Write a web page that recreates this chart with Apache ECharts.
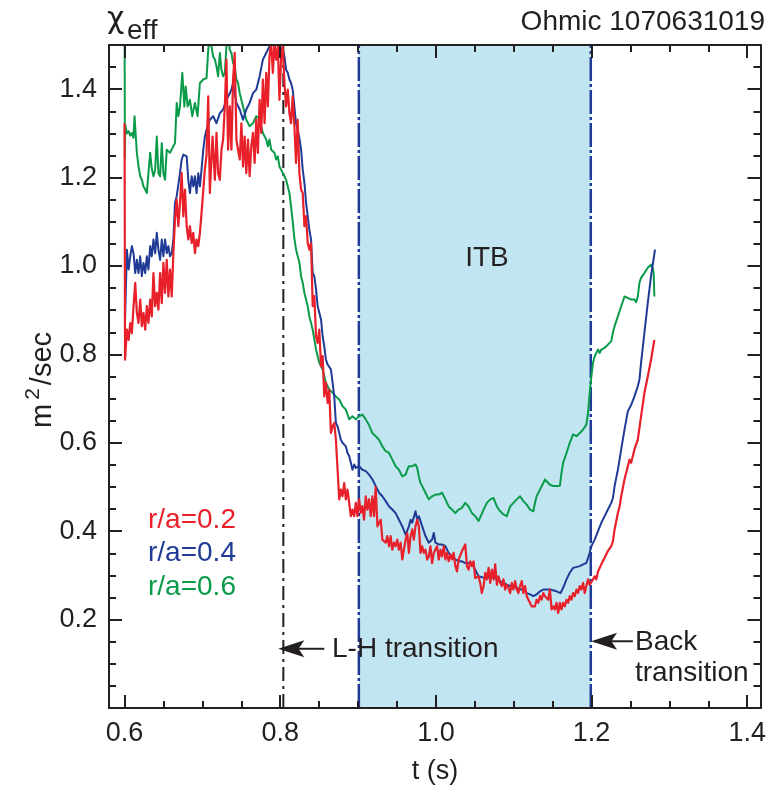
<!DOCTYPE html>
<html>
<head>
<meta charset="utf-8">
<script src="https://cdn.jsdelivr.net/npm/echarts@6/dist/echarts.min.js"></script>
<style>
  html, body { margin: 0; padding: 0; background: #ffffff; }
  #chart { width: 769px; height: 791px; }
</style>
</head>
<body>
<div id="chart"></div>
<script>
// Effective heat diffusivity chi_eff (m^2/s) versus time, three radii.

// r/a = 0.2
const redT = [
  0.6000, 0.6006, 0.6030, 0.6052, 0.6073, 0.6094, 0.6115, 0.6137, 0.6158, 0.6179,
  0.6201, 0.6222, 0.6243, 0.6265, 0.6286, 0.6307, 0.6329, 0.6350, 0.6371, 0.6393,
  0.6414, 0.6435, 0.6457, 0.6478, 0.6499, 0.6520, 0.6542, 0.6563, 0.6584, 0.6606,
  0.6627, 0.6648, 0.6670, 0.6691, 0.6712, 0.6734, 0.6755, 0.6776, 0.6798, 0.6819,
  0.6840, 0.6862, 0.6883, 0.6904, 0.6925, 0.6947, 0.6968, 0.6989, 0.7011, 0.7032,
  0.7053, 0.7075, 0.7096, 0.7130, 0.7160, 0.7181, 0.7202, 0.7224, 0.7245, 0.7266,
  0.7288, 0.7309, 0.7330, 0.7352, 0.7373, 0.7394, 0.7415, 0.7437, 0.7458, 0.7480,
  0.7501, 0.7522, 0.7543, 0.7564, 0.7586, 0.7607, 0.7628, 0.7650, 0.7671, 0.7692,
  0.7713, 0.7735, 0.7756, 0.7777, 0.7799, 0.7820, 0.7841, 0.7862, 0.7884, 0.7905,
  0.7926, 0.7948, 0.7969, 0.7990, 0.8012, 0.8033, 0.8054, 0.8075, 0.8097, 0.8118,
  0.8139, 0.8160, 0.8182, 0.8203, 0.8224, 0.8246, 0.8268, 0.8289, 0.8311, 0.8332,
  0.8353, 0.8374, 0.8396, 0.8417, 0.8438, 0.8460, 0.8481, 0.8502, 0.8524, 0.8545,
  0.8566, 0.8587, 0.8609, 0.8630, 0.8651, 0.8673, 0.8694, 0.8715, 0.8737, 0.8758,
  0.8779, 0.8800, 0.8822, 0.8843, 0.8864, 0.8886, 0.8907, 0.8928, 0.8950, 0.8971,
  0.8992, 0.9013, 0.9035, 0.9056, 0.9077, 0.9099, 0.9120, 0.9141, 0.9163, 0.9184,
  0.9205, 0.9226, 0.9249, 0.9270, 0.9291, 0.9312, 0.9334, 0.9355, 0.9376, 0.9398,
  0.9419, 0.9440, 0.9462, 0.9483, 0.9504, 0.9525, 0.9547, 0.9568, 0.9589, 0.9611,
  0.9632, 0.9653, 0.9675, 0.9696, 0.9717, 0.9738, 0.9760, 0.9781, 0.9802, 0.9824,
  0.9845, 0.9866, 0.9888, 0.9909, 0.9930, 0.9951, 0.9973, 0.9994, 1.0015, 1.0037,
  1.0058, 1.0079, 1.0101, 1.0122, 1.0143, 1.0164, 1.0186, 1.0207, 1.0228, 1.0250,
  1.0271, 1.0292, 1.0335, 1.0377, 1.0399, 1.0420, 1.0441, 1.0463, 1.0484, 1.0505,
  1.0527, 1.0548, 1.0569, 1.0590, 1.0613, 1.0634, 1.0655, 1.0677, 1.0698, 1.0719,
  1.0741, 1.0762, 1.0783, 1.0805, 1.0826, 1.0847, 1.0868, 1.0890, 1.0911, 1.0932,
  1.0954, 1.0975, 1.0996, 1.1018, 1.1039, 1.1060, 1.1081, 1.1103, 1.1124, 1.1145,
  1.1167, 1.1188, 1.1209, 1.1230, 1.1252, 1.1273, 1.1294, 1.1316, 1.1337, 1.1358,
  1.1380, 1.1401, 1.1422, 1.1443, 1.1465, 1.1486, 1.1507, 1.1529, 1.1550, 1.1571,
  1.1593, 1.1614, 1.1635, 1.1656, 1.1678, 1.1699, 1.1720, 1.1741, 1.1763, 1.1784,
  1.1806, 1.1827, 1.1848, 1.1869, 1.1891, 1.1912, 1.1933, 1.1955, 1.1976, 1.2019,
  1.2040, 1.2061, 1.2083, 1.2104, 1.2125, 1.2147, 1.2168, 1.2189, 1.2210, 1.2232,
  1.2253, 1.2274, 1.2296, 1.2338, 1.2360, 1.2381, 1.2423, 1.2466, 1.2487, 1.2509,
  1.2530, 1.2551, 1.2594, 1.2636, 1.2679, 1.2722, 1.2764, 1.2807
];
const redChi = [
  1.323, 0.788, 0.856, 0.833, 0.871, 0.848, 0.909, 0.962, 0.894, 0.871,
  0.924, 0.864, 0.894, 0.856, 0.909, 0.871, 0.924, 0.886, 0.984, 0.909,
  0.939, 0.901, 0.984, 0.916, 1.007, 0.939, 1.014, 0.931, 0.992, 0.931,
  1.029, 1.105, 1.150, 1.090, 1.143, 1.210, 1.112, 1.173, 1.090, 1.060,
  1.090, 1.052, 1.075, 1.029, 1.060, 1.045, 1.075, 1.120, 1.170, 1.220,
  1.250, 1.384, 1.165, 1.293, 1.195, 1.301, 1.210, 1.195, 1.263, 1.286,
  1.361, 1.467, 1.263, 1.361, 1.263, 1.422, 1.482, 1.286, 1.263, 1.241,
  1.323, 1.225, 1.293, 1.210, 1.286, 1.203, 1.271, 1.301, 1.233, 1.331,
  1.256, 1.376, 1.301, 1.422, 1.323, 1.437, 1.361, 1.474, 1.505, 1.437,
  1.504, 1.467, 1.497, 1.376, 1.474, 1.497, 1.414, 1.361, 1.399, 1.346,
  1.323, 1.384, 1.316, 1.233, 1.331, 1.210, 1.173, 1.165, 1.090, 1.113,
  1.052, 1.037, 1.052, 0.909, 0.932, 0.841, 0.826, 0.856, 0.773, 0.796,
  0.705, 0.736, 0.690, 0.720, 0.622, 0.637, 0.645, 0.607, 0.539, 0.472,
  0.494, 0.479, 0.509, 0.472, 0.494, 0.464, 0.434, 0.449, 0.434, 0.464,
  0.434, 0.472, 0.442, 0.457, 0.426, 0.479, 0.449, 0.472, 0.434, 0.479,
  0.434, 0.500, 0.411, 0.419, 0.426, 0.381, 0.381, 0.374, 0.389, 0.366,
  0.389, 0.358, 0.374, 0.366, 0.381, 0.358, 0.374, 0.336, 0.358, 0.381,
  0.396, 0.351, 0.389, 0.404, 0.381, 0.411, 0.426, 0.411, 0.351, 0.366,
  0.351, 0.358, 0.336, 0.343, 0.366, 0.328, 0.351, 0.347, 0.366, 0.336,
  0.358, 0.343, 0.366, 0.336, 0.351, 0.332, 0.347, 0.336, 0.351, 0.321,
  0.309, 0.336, 0.355, 0.370, 0.321, 0.313, 0.332, 0.321, 0.332, 0.294,
  0.291, 0.298, 0.283, 0.260, 0.276, 0.306, 0.291, 0.317, 0.283, 0.313,
  0.291, 0.325, 0.279, 0.298, 0.283, 0.276, 0.291, 0.268, 0.279, 0.272,
  0.260, 0.283, 0.268, 0.287, 0.268, 0.260, 0.276, 0.287, 0.260, 0.276,
  0.253, 0.245, 0.238, 0.230, 0.234, 0.230, 0.245, 0.238, 0.253, 0.245,
  0.260, 0.253, 0.253, 0.245, 0.268, 0.223, 0.230, 0.223, 0.238, 0.215,
  0.238, 0.223, 0.238, 0.230, 0.245, 0.238, 0.253, 0.245, 0.260, 0.253,
  0.268, 0.260, 0.276, 0.268, 0.283, 0.260, 0.276, 0.291, 0.279, 0.291,
  0.298, 0.291, 0.309, 0.306, 0.325, 0.321, 0.340, 0.336, 0.355, 0.351,
  0.366, 0.377, 0.404, 0.441, 0.456, 0.479, 0.517, 0.547, 0.562, 0.555,
  0.570, 0.585, 0.607, 0.660, 0.713, 0.750, 0.788, 0.833
];

// r/a = 0.4
const blueT = [
  0.6005, 0.6030, 0.6052, 0.6073, 0.6094, 0.6115, 0.6137, 0.6158, 0.6179, 0.6201,
  0.6222, 0.6243, 0.6265, 0.6286, 0.6307, 0.6329, 0.6350, 0.6371, 0.6393, 0.6414,
  0.6435, 0.6457, 0.6478, 0.6499, 0.6520, 0.6542, 0.6563, 0.6584, 0.6606, 0.6627,
  0.6648, 0.6670, 0.6691, 0.6712, 0.6734, 0.6755, 0.6776, 0.6798, 0.6819, 0.6840,
  0.6862, 0.6883, 0.6904, 0.6925, 0.6947, 0.6968, 0.6989, 0.7011, 0.7032, 0.7053,
  0.7096, 0.7138, 0.7181, 0.7224, 0.7266, 0.7309, 0.7352, 0.7373, 0.7394, 0.7437,
  0.7480, 0.7522, 0.7564, 0.7607, 0.7650, 0.7692, 0.7735, 0.7777, 0.7820, 0.7862,
  0.7905, 0.7948, 0.7990, 0.8033, 0.8054, 0.8075, 0.8097, 0.8118, 0.8139, 0.8160,
  0.8203, 0.8246, 0.8268, 0.8289, 0.8311, 0.8332, 0.8353, 0.8374, 0.8396, 0.8417,
  0.8438, 0.8460, 0.8481, 0.8502, 0.8524, 0.8545, 0.8566, 0.8587, 0.8609, 0.8630,
  0.8651, 0.8673, 0.8694, 0.8715, 0.8737, 0.8758, 0.8779, 0.8800, 0.8843, 0.8864,
  0.8886, 0.8907, 0.8928, 0.8950, 0.8971, 0.9013, 0.9056, 0.9099, 0.9141, 0.9185,
  0.9227, 0.9270, 0.9312, 0.9355, 0.9398, 0.9440, 0.9483, 0.9525, 0.9568, 0.9611,
  0.9653, 0.9675, 0.9696, 0.9717, 0.9738, 0.9760, 0.9781, 0.9824, 0.9866, 0.9909,
  0.9951, 0.9973, 0.9994, 1.0037, 1.0079, 1.0122, 1.0164, 1.0207, 1.0250, 1.0292,
  1.0335, 1.0377, 1.0463, 1.0505, 1.0548, 1.0612, 1.0655, 1.0698, 1.0741, 1.0783,
  1.0826, 1.0868, 1.0911, 1.0954, 1.0996, 1.1039, 1.1081, 1.1124, 1.1167, 1.1209,
  1.1252, 1.1273, 1.1294, 1.1337, 1.1380, 1.1465, 1.1550, 1.1601, 1.1635, 1.1678,
  1.1720, 1.1763, 1.1848, 1.1891, 1.1933, 1.1955, 1.1976, 1.1997, 1.2040, 1.2083,
  1.2125, 1.2168, 1.2210, 1.2253, 1.2274, 1.2296, 1.2338, 1.2381, 1.2423, 1.2466,
  1.2509, 1.2551, 1.2594, 1.2615, 1.2636, 1.2679, 1.2722, 1.2764, 1.2815
];
const blueChi = [
  0.871, 1.037, 0.992, 1.022, 1.045, 1.029, 0.984, 1.014, 0.984, 1.022,
  0.977, 1.007, 0.984, 1.022, 0.992, 1.045, 1.022, 1.060, 1.029, 1.075,
  1.037, 1.014, 1.060, 1.022, 1.060, 1.029, 1.045, 1.022, 1.029, 1.060,
  1.143, 1.158, 1.158, 1.210, 1.241, 1.252, 1.252, 1.248, 1.195, 1.165,
  1.203, 1.180, 1.203, 1.165, 1.210, 1.180, 1.218, 1.263, 1.293, 1.308,
  1.331, 1.339, 1.323, 1.346, 1.354, 1.376, 1.391, 1.399, 1.414, 1.369,
  1.354, 1.331, 1.354, 1.369, 1.391, 1.399, 1.429, 1.467, 1.482, 1.497,
  1.504, 1.504, 1.497, 1.489, 1.474, 1.444, 1.437, 1.422, 1.414, 1.399,
  1.323, 1.290, 1.263, 1.218, 1.188, 1.143, 1.113, 1.082, 1.060, 0.984,
  0.977, 0.947, 0.909, 0.894, 0.879, 0.841, 0.818, 0.788, 0.777, 0.773,
  0.766, 0.736, 0.705, 0.645, 0.637, 0.622, 0.607, 0.600, 0.592, 0.577,
  0.570, 0.555, 0.539, 0.551, 0.543, 0.547, 0.539, 0.536, 0.528, 0.517,
  0.502, 0.487, 0.479, 0.468, 0.456, 0.449, 0.441, 0.426, 0.411, 0.392,
  0.411, 0.426, 0.419, 0.419, 0.445, 0.426, 0.434, 0.411, 0.389, 0.374,
  0.381, 0.396, 0.374, 0.370, 0.370, 0.366, 0.351, 0.343, 0.336, 0.332,
  0.332, 0.328, 0.328, 0.313, 0.298, 0.295, 0.298, 0.294, 0.298, 0.291,
  0.287, 0.283, 0.279, 0.276, 0.276, 0.272, 0.268, 0.268, 0.260, 0.257,
  0.253, 0.249, 0.257, 0.264, 0.268, 0.268, 0.264, 0.260, 0.272, 0.291,
  0.306, 0.317, 0.321, 0.325, 0.328, 0.332, 0.351, 0.366, 0.381, 0.400,
  0.419, 0.434, 0.449, 0.464, 0.475, 0.502, 0.539, 0.585, 0.630, 0.671,
  0.686, 0.705, 0.728, 0.743, 0.781, 0.849, 0.916, 0.977, 1.037
];

// r/a = 0.6
const greenT = [
  0.6000, 0.6004, 0.6009, 0.6030, 0.6052, 0.6073, 0.6094, 0.6115, 0.6128, 0.6158,
  0.6179, 0.6201, 0.6222, 0.6243, 0.6265, 0.6286, 0.6307, 0.6329, 0.6350, 0.6371,
  0.6393, 0.6414, 0.6435, 0.6457, 0.6478, 0.6499, 0.6520, 0.6542, 0.6563, 0.6584,
  0.6606, 0.6627, 0.6648, 0.6670, 0.6691, 0.6712, 0.6742, 0.6768, 0.6785, 0.6810,
  0.6840, 0.6870, 0.6904, 0.6938, 0.6968, 0.7011, 0.7053, 0.7075, 0.7096, 0.7138,
  0.7160, 0.7181, 0.7202, 0.7224, 0.7245, 0.7266, 0.7288, 0.7309, 0.7330, 0.7352,
  0.7373, 0.7394, 0.7415, 0.7437, 0.7458, 0.7480, 0.7522, 0.7564, 0.7607, 0.7650,
  0.7692, 0.7735, 0.7777, 0.7820, 0.7841, 0.7862, 0.7884, 0.7905, 0.7926, 0.7948,
  0.7969, 0.7990, 0.8012, 0.8033, 0.8054, 0.8075, 0.8097, 0.8118, 0.8139, 0.8161,
  0.8183, 0.8204, 0.8225, 0.8247, 0.8268, 0.8289, 0.8311, 0.8332, 0.8353, 0.8374,
  0.8396, 0.8417, 0.8438, 0.8460, 0.8481, 0.8502, 0.8545, 0.8587, 0.8630, 0.8673,
  0.8715, 0.8758, 0.8800, 0.8843, 0.8886, 0.8928, 0.8971, 0.9013, 0.9056, 0.9099,
  0.9141, 0.9184, 0.9226, 0.9269, 0.9312, 0.9355, 0.9398, 0.9440, 0.9483, 0.9525,
  0.9568, 0.9589, 0.9611, 0.9632, 0.9653, 0.9675, 0.9696, 0.9738, 0.9760, 0.9781,
  0.9802, 0.9824, 0.9866, 0.9909, 0.9951, 0.9994, 1.0037, 1.0079, 1.0122, 1.0164,
  1.0207, 1.0250, 1.0292, 1.0335, 1.0377, 1.0399, 1.0420, 1.0463, 1.0505, 1.0548,
  1.0570, 1.0613, 1.0655, 1.0698, 1.0741, 1.0762, 1.0783, 1.0826, 1.0868, 1.0911,
  1.0932, 1.0954, 1.0996, 1.1039, 1.1081, 1.1103, 1.1124, 1.1167, 1.1209, 1.1252,
  1.1273, 1.1294, 1.1337, 1.1380, 1.1401, 1.1422, 1.1465, 1.1507, 1.1550, 1.1593,
  1.1614, 1.1635, 1.1678, 1.1720, 1.1763, 1.1806, 1.1848, 1.1891, 1.1933, 1.1955,
  1.1976, 1.1997, 1.2019, 1.2040, 1.2061, 1.2083, 1.2104, 1.2125, 1.2168, 1.2210,
  1.2253, 1.2274, 1.2296, 1.2338, 1.2381, 1.2423, 1.2445, 1.2466, 1.2509, 1.2551,
  1.2572, 1.2594, 1.2615, 1.2636, 1.2679, 1.2722, 1.2764, 1.2785, 1.2798, 1.2807
];
const greenChi = [
  1.560, 1.245, 1.320, 1.300, 1.305, 1.295, 1.301, 1.290, 1.339, 1.256,
  1.226, 1.203, 1.195, 1.180, 1.173, 1.165, 1.210, 1.256, 1.220, 1.203,
  1.218, 1.293, 1.210, 1.203, 1.278, 1.210, 1.195, 1.263, 1.263, 1.256,
  1.256, 1.271, 1.278, 1.369, 1.339, 1.361, 1.437, 1.361, 1.406, 1.361,
  1.376, 1.339, 1.369, 1.339, 1.414, 1.422, 1.425, 1.489, 1.520, 1.474,
  1.467, 1.452, 1.429, 1.482, 1.444, 1.429, 1.437, 1.497, 1.520, 1.489,
  1.482, 1.459, 1.452, 1.422, 1.414, 1.391, 1.361, 1.331, 1.316, 1.323,
  1.339, 1.331, 1.301, 1.286, 1.271, 1.286, 1.263, 1.263, 1.256, 1.241,
  1.248, 1.225, 1.218, 1.210, 1.203, 1.195, 1.180, 1.165, 1.135, 1.100,
  1.060, 1.037, 1.022, 1.007, 0.977, 0.962, 0.939, 0.924, 0.909, 0.886,
  0.871, 0.856, 0.834, 0.811, 0.796, 0.781, 0.766, 0.736, 0.720, 0.713,
  0.705, 0.698, 0.683, 0.675, 0.653, 0.660, 0.653, 0.660, 0.664, 0.653,
  0.640, 0.622, 0.615, 0.607, 0.592, 0.581, 0.577, 0.562, 0.547, 0.539,
  0.524, 0.521, 0.528, 0.539, 0.547, 0.543, 0.547, 0.551, 0.543, 0.524,
  0.509, 0.502, 0.487, 0.472, 0.479, 0.483, 0.483, 0.487, 0.472, 0.456,
  0.449, 0.441, 0.449, 0.453, 0.464, 0.465, 0.456, 0.441, 0.434, 0.423,
  0.419, 0.449, 0.464, 0.472, 0.475, 0.479, 0.456, 0.445, 0.438, 0.434,
  0.434, 0.456, 0.464, 0.472, 0.479, 0.483, 0.468, 0.460, 0.449, 0.445,
  0.464, 0.479, 0.494, 0.509, 0.517, 0.513, 0.505, 0.502, 0.502, 0.503,
  0.532, 0.555, 0.577, 0.600, 0.619, 0.615, 0.622, 0.630, 0.641, 0.668,
  0.713, 0.750, 0.781, 0.796, 0.803, 0.811, 0.803, 0.811, 0.815, 0.822,
  0.830, 0.849, 0.864, 0.886, 0.909, 0.931, 0.933, 0.928, 0.924, 0.924,
  0.918, 0.931, 0.962, 0.973, 0.984, 0.996, 1.003, 0.996, 0.984, 0.931
];

// Axis ranges and tick positions
const X_MIN = 0.58, X_MAX = 1.417;
const Y_MIN = 0, Y_MAX = 1.5;
const xMajorTicks = [0.6, 0.8, 1.0, 1.2, 1.4];
const xMinorTicks = [0.65, 0.7, 0.75, 0.85, 0.9, 0.95, 1.05, 1.1, 1.15, 1.25, 1.3, 1.35];
const yMajorTicks = [0.2, 0.4, 0.6, 0.8, 1.0, 1.2, 1.4];
const yMinorTicks = [0.05, 0.1, 0.15, 0.25, 0.3, 0.35, 0.45, 0.5, 0.55, 0.65, 0.7, 0.75,
                     0.85, 0.9, 0.95, 1.05, 1.1, 1.15, 1.25, 1.3, 1.35, 1.45];

// Event times (s)
const lhTime = 0.804;     // L-H transition
const itbStart = 0.901;   // ITB phase begins
const itbEnd = 1.199;     // back transition

// Annotation arrows: [tip time, shaft end time, level]
const lhArrow = [0.7975, 0.8566, 0.134];
const backArrow = [1.1994, 1.2531, 0.151];

const INK = '#231f20';
const RED = '#e8202a';
const BLUE = '#1f3b96';
const GREEN = '#0a9b4a';
const SHADE = '#c2e6f1';
const FONT = '"Liberation Sans", Arial, Helvetica, sans-serif';

const pairs = (ts, vs) => ts.map((t, i) => [t, vs[i]]);

function frameAxis(dim, position, ticks, len, withLine, withLabels) {
  return {
    type: 'value',
    position: position,
    min: dim === 'x' ? X_MIN : Y_MIN,
    max: dim === 'x' ? X_MAX : Y_MAX,
    z: 10,
    silent: true,
    axisLine: { show: withLine, onZero: false, lineStyle: { color: INK, width: 2 } },
    axisTick: { show: true, inside: true, length: len, customValues: ticks,
                lineStyle: { color: INK, width: 2 } },
    axisLabel: withLabels ? {
      show: true, customValues: ticks, formatter: v => v.toFixed(1),
      color: INK, fontSize: 27, fontFamily: FONT, margin: 12
    } : { show: false },
    splitLine: { show: false },
    minorTick: { show: false },
    minorSplitLine: { show: false }
  };
}

function eventLine(t, color, dash, width) {
  return {
    type: 'line', z: 2, silent: true, symbol: 'none',
    lineStyle: { color: color, width: width, type: dash },
    data: [[t, Y_MIN], [t, Y_MAX]]
  };
}

function curve(name, ts, vs, color, width) {
  return {
    name: name, type: 'line', z: 4, silent: true, symbol: 'none',
    lineStyle: { color: color, width: width, join: 'round' },
    data: pairs(ts, vs)
  };
}

const chart = echarts.init(document.getElementById('chart'), null, { renderer: 'canvas' });
const GRID = { left: 109, top: 45, right: 6, bottom: 83 };

chart.setOption({
  animation: false,
  backgroundColor: '#ffffff',
  grid: GRID,
  xAxis: [
    frameAxis('x', 'bottom', xMajorTicks, 13, true, true),
    frameAxis('x', 'bottom', xMinorTicks, 7, false, false),
    frameAxis('x', 'top', xMajorTicks, 13, true, false),
    frameAxis('x', 'top', xMinorTicks, 7, false, false)
  ],
  yAxis: [
    frameAxis('y', 'left', yMajorTicks, 13, true, true),
    frameAxis('y', 'left', yMinorTicks, 7, false, false),
    frameAxis('y', 'right', yMajorTicks, 13, true, false),
    frameAxis('y', 'right', yMinorTicks, 7, false, false)
  ],
  series: [
    {
      name: 'ITB', type: 'line', z: 1, silent: true, symbol: 'none', data: [],
      markArea: {
        silent: true,
        itemStyle: { color: SHADE },
        data: [[{ xAxis: itbStart }, { xAxis: itbEnd }]]
      }
    },
    eventLine(lhTime, INK, [14, 5, 3, 5], 2),
    eventLine(itbStart, BLUE, [24, 3, 3, 3], 2.5),
    eventLine(itbEnd, BLUE, [24, 3, 3, 3], 2.5),
    curve('r/a=0.6', greenT, greenChi, GREEN, 2),
    curve('r/a=0.4', blueT, blueChi, BLUE, 2),
    curve('r/a=0.2', redT, redChi, RED, 2.2)
  ]
});

// Annotations: text labels and notched arrows anchored in data space
const toPx = (t, v) => chart.convertToPixel({ xAxisIndex: 0, yAxisIndex: 0 }, [t, v]);

function arrowGraphics(spec) {
  const [tipT, endT, level] = spec;
  const tip = toPx(tipT, level);
  const end = toPx(endT, level);
  const L = 26, W = 17;
  const x0 = tip[0], y0 = tip[1];
  return [
    { type: 'line', z: 100, silent: true,
      shape: { x1: x0 + L * 0.7, y1: y0, x2: end[0], y2: y0 },
      style: { stroke: INK, lineWidth: 2 } },
    { type: 'polygon', z: 100, silent: true,
      shape: { points: [[x0, y0], [x0 + L, y0 - W / 2], [x0 + L * 0.78, y0], [x0 + L, y0 + W / 2]] },
      style: { fill: INK } }
  ];
}

const textStyle = (text, size, color, align, family) => ({
  text: text, font: size + 'px ' + (family || FONT), fill: color,
  align: align || 'left', verticalAlign: 'middle'
});
const label = (x, y, style) => ({ type: 'text', z: 100, silent: true, x: x, y: y, style: style });

chart.setOption({
  graphic: [
    label(107, 20, textStyle('χ', 30, INK, 'left', '"DejaVu Sans", "Noto Sans", sans-serif')),
    label(127, 31, textStyle('eff', 28, INK)),
    label(765, 22, textStyle('Ohmic 1070631019', 28, INK, 'right')),
    label(487, 258, textStyle('ITB', 28, INK, 'center')),
    label(148, 520, textStyle('r/a=0.2', 28, RED)),
    label(148, 553, textStyle('r/a=0.4', 28, BLUE)),
    label(148, 587, textStyle('r/a=0.6', 28, GREEN)),
    label(332, 649, textStyle('L-H transition', 28, INK)),
    label(635, 642, textStyle('Back', 28, INK)),
    label(635, 673, textStyle('transition', 28, INK)),
    label(435, 772, textStyle('t (s)', 27, INK, 'center')),
    {
      type: 'text', z: 100, silent: true, x: 40, y: 380, rotation: Math.PI / 2,
      style: {
        text: '{m|m}{s|2}{r|/sec}', fill: INK, align: 'center', verticalAlign: 'middle',
        rich: {
          m: { font: '29px ' + FONT, fill: INK, lineHeight: 34, verticalAlign: 'bottom' },
          s: { font: '21px ' + FONT, fill: INK, lineHeight: 34, verticalAlign: 'top', padding: [0, 3, 0, 4] },
          r: { font: '29px ' + FONT, fill: INK, lineHeight: 34, verticalAlign: 'bottom' }
        }
      }
    }
  ].concat(arrowGraphics(lhArrow), arrowGraphics(backArrow))
});
</script>
</body>
</html>
